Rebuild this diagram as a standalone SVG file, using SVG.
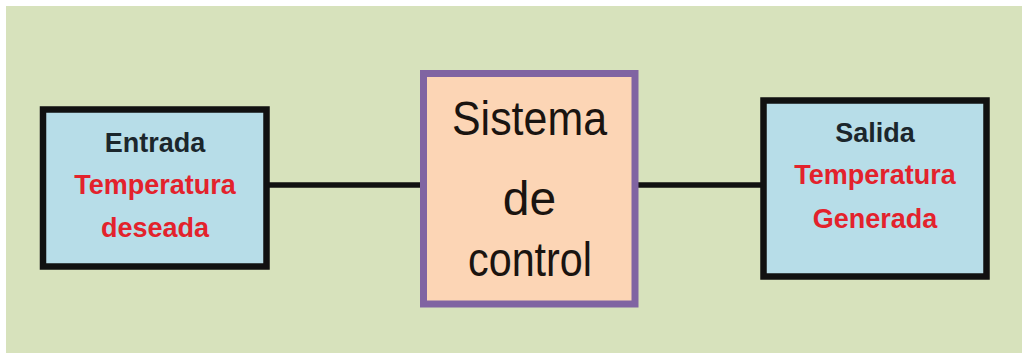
<svg xmlns="http://www.w3.org/2000/svg" width="1022" height="353" viewBox="0 0 1022 353">
<style>
.bg{fill:#d7e2bc}
.io{fill:#b7dde8;stroke:#111;stroke-width:6.5}
.sys{fill:#fcd5b5;stroke:#8064a2;stroke-width:7}
.conn{stroke:#111;stroke-width:5.5;fill:none}
.lbl{font-family:"Liberation Sans",Arial,sans-serif;font-weight:bold;font-size:27px;text-anchor:middle}
.dark{fill:#1b262c}
.red{fill:#e3222c}
.big{font-family:"Liberation Sans",Arial,sans-serif;font-size:48px;text-anchor:middle;fill:#1a1410}
</style>
<rect x="0" y="0" width="1022" height="353" fill="#ffffff"/>
<rect class="bg" x="6" y="6" width="1016" height="347"/>
<g id="connectors">
<line class="conn" x1="266" y1="185" x2="424" y2="185"/>
<line class="conn" x1="635" y1="185" x2="764" y2="185"/>
</g>
<g id="entrada">
<rect class="io" x="43" y="109.5" width="223.5" height="157"/>
<text class="lbl dark" x="155" y="152">Entrada</text>
<text class="lbl red" x="155" y="194">Temperatura</text>
<text class="lbl red" x="155" y="237">deseada</text>
</g>
<g id="sistema">
<rect class="sys" x="423.5" y="73.5" width="211.5" height="230.5"/>
<text class="big" x="529.5" y="135" textLength="155" lengthAdjust="spacingAndGlyphs">Sistema</text>
<text class="big" x="529.5" y="215">de</text>
<text class="big" x="530" y="276" textLength="124" lengthAdjust="spacingAndGlyphs">control</text>
</g>
<g id="salida">
<rect class="io" x="763.5" y="100.5" width="223" height="176"/>
<text class="lbl dark" x="875" y="142">Salida</text>
<text class="lbl red" x="875" y="184">Temperatura</text>
<text class="lbl red" x="875" y="228">Generada</text>
</g>
</svg>
